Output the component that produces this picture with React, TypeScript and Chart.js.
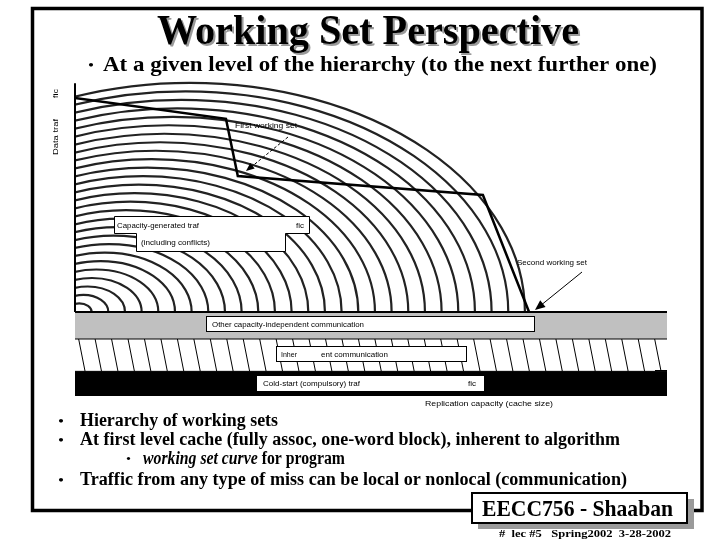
import React, { useEffect, useRef } from "react";
import { Chart, registerables } from "chart.js";
Chart.register(...registerables);

// ---- data (x: replication capacity, y: data traffic; arbitrary 0..100 units)
const cacheSize = [0, 25.5, 27.5, 68.9, 76.7];
const dataTraffic = [94.3, 87.7, 69.6, 63.6, 26.6];
const bandX = [0, 100];
const coldStartTop = [7.8, 7.8];
const inherentTop = [18.2, 18.2];
const otherTop = [26.6, 26.6];
const axisTop = 99;

// concentric "capacity-generated" arcs
const arcCount = 27;
const arcCenterShift = 19.4;
const arcRadiusX = 56.6;
const arcRadiusY = 72.5;
// hatch of inherent communication
const hatchStart = 0.6;
const hatchStep = 2.78;
const hatchSlant = 1.1;

const titleText = "Working Set Perspective";
const subtitleText = "At a given level of the hierarchy (to the next further one)";
const bullets = [
  "Hierarchy of working sets",
  "At first level cache (fully assoc, one-word block), inherent to algorithm",
  "Traffic from any type of miss can be local or nonlocal (communication)",
];

const SERIF = '"Liberation Serif", "Times New Roman", serif';
const SANS = '"Liberation Sans", Arial, sans-serif';

type Seg = { text: string; font: string };
function fitText(ctx: CanvasRenderingContext2D, segs: Seg[], x: number, y: number, width: number, color = "#000") {
  ctx.save();
  let total = 0;
  const ws = segs.map((s) => {
    ctx.font = s.font;
    const w = ctx.measureText(s.text).width;
    total += w;
    return w;
  });
  const sx = width / total;
  ctx.translate(x, y);
  ctx.scale(sx, 1);
  ctx.fillStyle = color;
  ctx.textBaseline = "alphabetic";
  ctx.textAlign = "left";
  let cx = 0;
  segs.forEach((s, i) => {
    ctx.font = s.font;
    ctx.fillText(s.text, cx, 0);
    cx += ws[i];
  });
  ctx.restore();
}

function smallText(ctx: CanvasRenderingContext2D, s: string, x: number, y: number, width: number) {
  fitText(ctx, [{ text: s, font: `8px ${SANS}` }], x, y, width);
}

function arrowHead(ctx: CanvasRenderingContext2D, x0: number, y0: number, x1: number, y1: number, size: number) {
  const a = Math.atan2(y1 - y0, x1 - x0);
  ctx.beginPath();
  ctx.moveTo(x1, y1);
  ctx.lineTo(x1 - size * Math.cos(a - 0.4), y1 - size * Math.sin(a - 0.4));
  ctx.lineTo(x1 - size * Math.cos(a + 0.4), y1 - size * Math.sin(a + 0.4));
  ctx.closePath();
  ctx.fill();
}

const slidePlugin = {
  id: "slide",
  beforeDraw(chart: any) {
    const { ctx, width, height } = chart;
    ctx.save();
    ctx.fillStyle = "#fff";
    ctx.fillRect(0, 0, width, height);
    ctx.restore();
  },
  beforeDatasetsDraw(chart: any) {
    const { ctx, chartArea: ca, scales } = chart;
    const xs = scales.x, ys = scales.y;
    const px = (v: number) => xs.getPixelForValue(v);
    const py = (v: number) => ys.getPixelForValue(v);
    // arcs
    ctx.save();
    ctx.beginPath();
    ctx.rect(px(0), ca.top - 10, ca.right - px(0), py(otherTop[0]) - ca.top + 10);
    ctx.clip();
    ctx.strokeStyle = "#222";
    ctx.lineWidth = 2.2;
    for (let k = 1; k <= arcCount; k++) {
      const t = k / arcCount;
      const cx = px(arcCenterShift * t);
      const cy = py(otherTop[0]);
      const rx = px(arcRadiusX * t) - px(0);
      const ry = py(0) - py(arcRadiusY * t);
      ctx.beginPath();
      ctx.ellipse(cx, cy, rx, ry, 0, Math.PI, 2 * Math.PI);
      ctx.stroke();
    }
    ctx.restore();
    // hatch
    ctx.save();
    ctx.beginPath();
    ctx.rect(px(0), py(inherentTop[0]), ca.right - px(0), py(coldStartTop[0]) - py(inherentTop[0]));
    ctx.clip();
    ctx.strokeStyle = "#000";
    ctx.lineWidth = 1;
    for (let v = hatchStart; v < 101; v += hatchStep) {
      ctx.beginPath();
      ctx.moveTo(px(v), py(inherentTop[0]));
      ctx.lineTo(px(v + hatchSlant), py(coldStartTop[0]));
      ctx.stroke();
    }
    ctx.restore();
    // y axis line
    ctx.save();
    ctx.strokeStyle = "#000";
    ctx.lineWidth = 2;
    ctx.beginPath();
    ctx.moveTo(px(0), py(axisTop));
    ctx.lineTo(px(0), py(otherTop[0]));
    ctx.stroke();
    ctx.restore();
  },
  afterDraw(chart: any) {
    const { ctx } = chart;
    ctx.save();
    // slide frame
    ctx.strokeStyle = "#000";
    ctx.lineWidth = 3.5;
    ctx.strokeRect(32.5, 8.5, 669.5, 502);

    // title with shadow
    const tf = `bold 42px ${SERIF}`;
    fitText(ctx, [{ text: titleText, font: tf }], 159, 46, 422, "#9a9a9a");
    fitText(ctx, [{ text: titleText, font: tf }], 157, 44, 422);
    // subtitle
    fitText(ctx, [{ text: "•", font: `14px ${SERIF}` }], 88, 70, 6);
    fitText(ctx, [{ text: subtitleText, font: `bold 21px ${SERIF}` }], 103, 71, 554);

    // axis labels
    ctx.save();
    ctx.translate(58, 0);
    ctx.rotate(-Math.PI / 2);
    ctx.fillStyle = "#000";
    smallText(ctx, "Data traf", -155, 0, 36);
    smallText(ctx, "fic", -98, 0, 9);
    ctx.restore();
    smallText(ctx, "Replication capacity (cache size)", 425, 406, 128);

    // in-plot annotations
    ctx.fillStyle = "#fff";
    ctx.strokeStyle = "#000";
    ctx.lineWidth = 1;
    // capacity-generated box
    ctx.beginPath();
    ctx.moveTo(114.5, 216.5);
    ctx.lineTo(309.5, 216.5);
    ctx.lineTo(309.5, 233.5);
    ctx.lineTo(285.5, 233.5);
    ctx.lineTo(285.5, 251.5);
    ctx.lineTo(136.5, 251.5);
    ctx.lineTo(136.5, 233.5);
    ctx.lineTo(114.5, 233.5);
    ctx.closePath();
    ctx.fill();
    ctx.stroke();
    smallText(ctx, "Capacity-generated traf", 117, 228, 82);
    smallText(ctx, "fic", 296, 228, 8);
    smallText(ctx, "(including conflicts)", 141, 245, 69);

    // other capacity-independent
    ctx.fillStyle = "#fff";
    ctx.fillRect(206.5, 316.5, 328, 15);
    ctx.strokeRect(206.5, 316.5, 328, 15);
    smallText(ctx, "Other capacity-independent communication", 212, 327, 152);
    // inherent
    ctx.fillStyle = "#fff";
    ctx.fillRect(276.5, 346.5, 190, 15);
    ctx.strokeRect(276.5, 346.5, 190, 15);
    smallText(ctx, "Inher", 281, 357, 16);
    smallText(ctx, "ent communication", 321, 357, 67);
    // cold start
    ctx.fillStyle = "#fff";
    ctx.fillRect(257, 376, 227, 15);
    smallText(ctx, "Cold-start (compulsory) traf", 263, 386, 97);
    smallText(ctx, "fic", 468, 386, 8);

    // first working set
    smallText(ctx, "First working set", 235, 128, 62);
    ctx.fillStyle = "#000";
    ctx.strokeStyle = "#000";
    ctx.lineWidth = 1;
    ctx.setLineDash([3, 2]);
    ctx.beginPath();
    ctx.moveTo(288, 137);
    ctx.lineTo(250, 168);
    ctx.stroke();
    ctx.setLineDash([]);
    arrowHead(ctx, 288, 137, 246, 171, 9);
    // second working set
    smallText(ctx, "Second working set", 517, 265, 70);
    ctx.beginPath();
    ctx.moveTo(582, 272);
    ctx.lineTo(540, 306);
    ctx.stroke();
    arrowHead(ctx, 582, 272, 535, 310, 11);
    // small tick at right end of cold-start band
    ctx.beginPath();
    ctx.moveTo(655, 370.5);
    ctx.lineTo(667, 370.5);
    ctx.stroke();

    // bullets
    const bf = `bold 18px ${SERIF}`;
    const bulletY = [426, 445, 485];
    const bulletW = [198, 540, 547];
    bullets.forEach((b, i) => {
      fitText(ctx, [{ text: "•", font: `14px ${SERIF}` }], 58, bulletY[i], 6);
      fitText(ctx, [{ text: b, font: bf }], 80, bulletY[i], bulletW[i]);
    });
    fitText(ctx, [{ text: "•", font: `12px ${SERIF}` }], 126, 463, 5);
    fitText(
      ctx,
      [
        { text: "working set curve", font: `italic bold 18px ${SERIF}` },
        { text: " for program", font: bf },
      ],
      143,
      464,
      202
    );

    // EECC box
    ctx.fillStyle = "#9a9a9a";
    ctx.fillRect(478, 499, 216, 30);
    ctx.fillStyle = "#fff";
    ctx.fillRect(472, 493, 215, 30);
    ctx.strokeStyle = "#000";
    ctx.lineWidth = 2;
    ctx.strokeRect(472, 493, 215, 30);
    fitText(ctx, [{ text: "EECC756 - Shaaban", font: `bold 24px ${SERIF}` }], 482, 516, 191);
    fitText(ctx, [{ text: "#  lec #5   Spring2002  3-28-2002", font: `bold 10px ${SERIF}` }], 499, 537, 172);
    ctx.restore();
  },
};

export default function App() {
  const ref = useRef<HTMLCanvasElement | null>(null);
  useEffect(() => {
    if (!ref.current) return;
    const pts = (xs: number[], ys: number[]) => xs.map((x, i) => ({ x, y: ys[i] }));
    const chart = new Chart(ref.current, {
      type: "line",
      data: {
        datasets: [
          {
            label: "Working set curve",
            data: pts(cacheSize, dataTraffic),
            borderColor: "#000",
            borderWidth: 2.5,
            pointRadius: 0,
            fill: false,
            tension: 0,
            order: 0,
          },
          {
            label: "Other capacity-independent communication",
            data: pts(bandX, otherTop),
            borderColor: "#000",
            borderWidth: 2,
            backgroundColor: "#c0c0c0",
            pointRadius: 0,
            fill: "+1",
            order: 1,
          },
          {
            label: "Inherent communication",
            data: pts(bandX, inherentTop),
            borderColor: "#000",
            borderWidth: 2,
            pointRadius: 0,
            fill: false,
            order: 2,
          },
          {
            label: "Cold-start (compulsory) traffic",
            data: pts(bandX, coldStartTop),
            borderColor: "#000",
            borderWidth: 1,
            backgroundColor: "#000",
            pointRadius: 0,
            fill: "origin",
            order: 3,
          },
        ],
      },
      options: {
        animation: false,
        responsive: false,
        devicePixelRatio: 1,
        layout: { padding: { left: 75, right: 53, top: 80, bottom: 144 } },
        scales: {
          x: { type: "linear", min: 0, max: 100, display: false },
          y: { type: "linear", min: 0, max: 100, display: false },
        },
        plugins: { legend: { display: false }, tooltip: { enabled: false }, title: { display: false } },
      },
      plugins: [slidePlugin],
    });
    return () => chart.destroy();
  }, []);
  return (
    <div style={{ position: "fixed", left: 0, top: 0, width: 720, height: 540, background: "#fff" }}>
      <canvas ref={ref} width={720} height={540} style={{ width: 720, height: 540, display: "block" }} />
    </div>
  );
}
